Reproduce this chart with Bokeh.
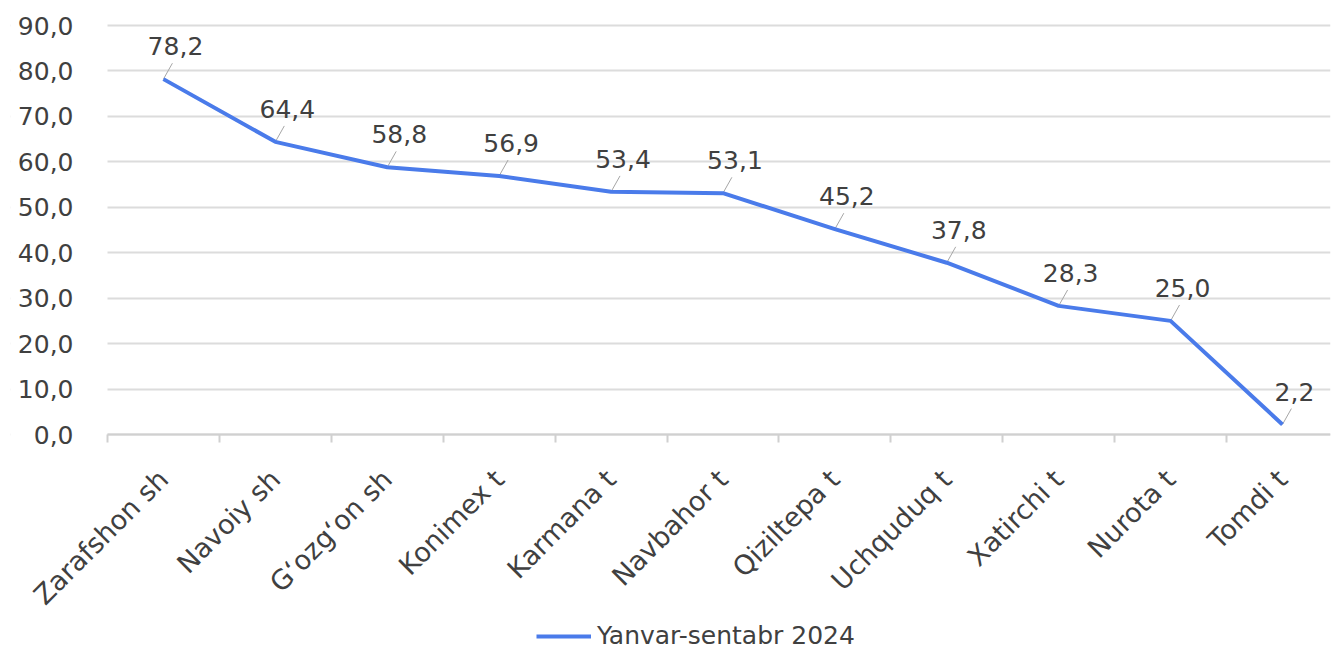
import math
from bokeh.plotting import figure
from bokeh.models import FixedTicker, Legend, LegendItem, ColumnDataSource, Range1d, BoxAnnotation
from bokeh.core.properties import value
from bokeh.embed import file_html
from bokeh.resources import INLINE

categories = ["Zarafshon sh", "Navoiy sh", "G\u2018ozg\u2018on sh", "Konimex t", "Karmana t",
              "Navbahor t", "Qiziltepa t", "Uchquduq t", "Xatirchi t", "Nurota t", "Tomdi t"]
values = [78.2, 64.4, 58.8, 56.9, 53.4, 53.1, 45.2, 37.8, 28.3, 25.0, 2.2]
series_name = "Yanvar-sentabr 2024"
y_ticks = [0, 10, 20, 30, 40, 50, 60, 70, 80, 90]

def fmt(v):
    return f"{v:.1f}".replace(".", ",")

idx = list(range(len(categories)))
FONT = "DejaVu Sans"
BLUE = "#4a7bea"
TXT = "#404040"

# layout (pixels): frame spans x 10..1330, y 5..652; value 90 at y=25, value 0 at y=434,
# category slot width 111.9 px, first slot starts at x=107
PX_PER_UNIT = 409 / 90
y_bottom = -(652 - 434) / PX_PER_UNIT
y_top = 90 + (25 - 5) / PX_PER_UNIT
SLOT = 111.9
x_start = -0.5 - (107 - 10) / SLOT
x_end = x_start + 1320 / SLOT
x_lo, x_hi = idx[0] - 0.5, idx[-1] + 0.5

p = figure(width=1331, height=652, output_backend="svg", toolbar_location=None,
           x_range=Range1d(x_start, x_end), y_range=Range1d(y_bottom, y_top),
           min_border_left=10, min_border_top=5, min_border_right=1, min_border_bottom=0)
p.outline_line_color = None
p.background_fill_color = "white"

# hide gridlines to the left of the plot area (where the y labels sit)
p.add_layout(BoxAnnotation(right=x_lo, fill_color="white", fill_alpha=1,
                           line_color=None, level="underlay"))

src = ColumnDataSource(dict(x=idx, y=values, lab=[fmt(v) for v in values],
                            lx=[i + 0.08 for i in idx], ly=[v + 3.5 for v in values]))

# leader lines
p.segment(x0="x", y0="y", x1="lx", y1="ly", source=src, line_color="#a6a6a6", line_width=1)
line = p.line(x="x", y="y", source=src, line_color=BLUE, line_width=4, line_join="round")
p.text(x="x", y="y", text="lab", source=src, x_offset=12, y_offset=-24,
       text_align="center", text_baseline="bottom", text_font_size="25px",
       text_color=TXT, text_font=value(FONT))

# y axis (drawn at the left edge of the category area)
p.yaxis.fixed_location = x_lo
p.yaxis.ticker = FixedTicker(ticks=y_ticks)
p.yaxis.major_label_overrides = {t: fmt(t) for t in y_ticks}
p.yaxis.axis_line_color = None
p.yaxis.major_tick_line_color = None
p.yaxis.minor_tick_line_color = None
p.yaxis.major_label_text_font = FONT
p.yaxis.major_label_text_font_size = "25px"
p.yaxis.major_label_text_color = TXT
p.yaxis.major_label_standoff = 28

p.ygrid.grid_line_color = "#dcdcdc"
p.ygrid.grid_line_width = 2
p.xgrid.grid_line_color = None

# x axis (drawn at y = 0)
p.xaxis.fixed_location = 0
p.xaxis.bounds = (x_lo, x_end)
p.xaxis.ticker = FixedTicker(ticks=idx, minor_ticks=[i - 0.5 for i in idx] + [x_hi])
p.xaxis.major_label_overrides = {i: c for i, c in zip(idx, categories)}
p.xaxis.major_label_orientation = math.pi / 4
p.xaxis.major_tick_line_color = None
p.xaxis.major_tick_out = 0
p.xaxis.minor_tick_out = 8
p.xaxis.minor_tick_in = 0
p.xaxis.minor_tick_line_color = "#d0d0d0"
p.xaxis.minor_tick_line_width = 2
p.xaxis.axis_line_color = "#d0d0d0"
p.xaxis.axis_line_width = 2
p.xaxis.major_label_text_font = FONT
p.xaxis.major_label_text_font_size = "27px"
p.xaxis.major_label_text_color = TXT
p.xaxis.major_label_standoff = 32

legend = Legend(items=[LegendItem(label=series_name, renderers=[line])],
                orientation="horizontal", location=(526, 2),
                label_text_font=FONT, label_text_font_size="25px", label_text_color=TXT,
                glyph_width=55, border_line_color=None, background_fill_alpha=0,
                padding=0, margin=0, label_standoff=6)
p.add_layout(legend)

open("out.html", "w").write(file_html(p, INLINE))
